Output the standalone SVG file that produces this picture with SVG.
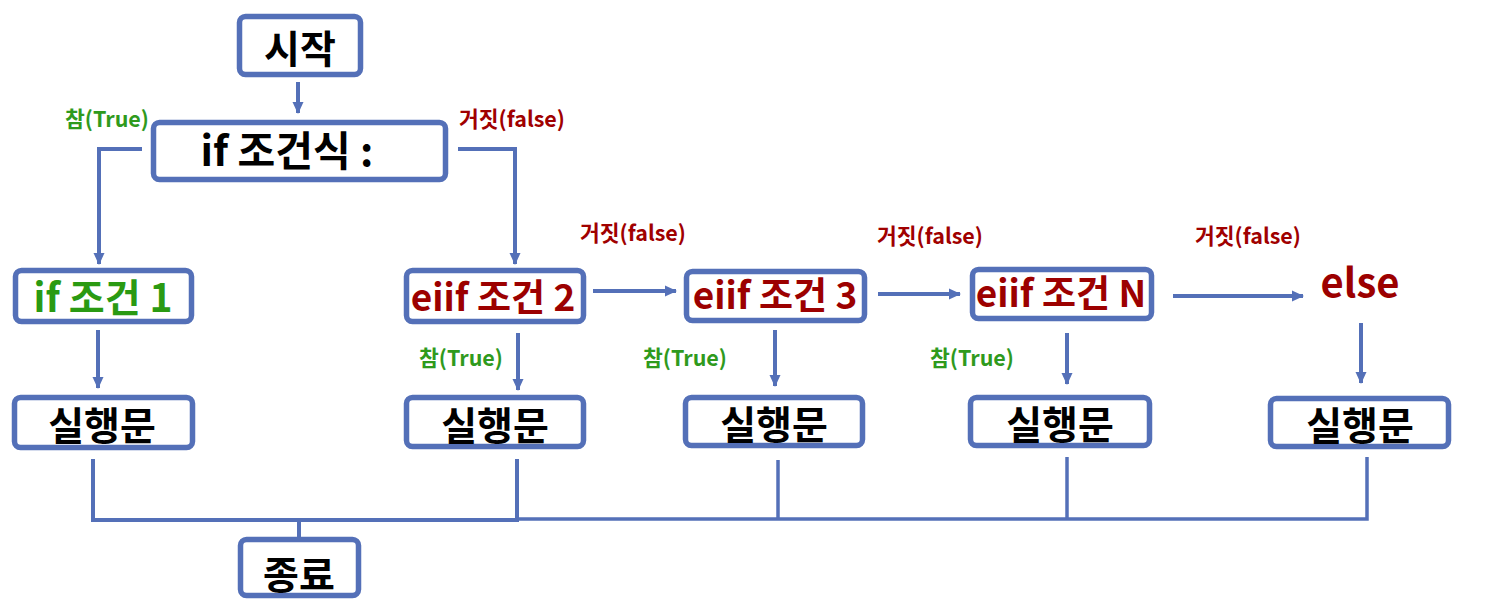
<svg xmlns="http://www.w3.org/2000/svg" width="1496" height="616" viewBox="0 0 1496 616">
<style>
.box{fill:#fff;stroke:#5470b8;stroke-width:5.5}
.t{font-family:"Noto Sans CJK KR","Noto Sans",sans-serif;font-weight:bold;font-size:39px;text-anchor:middle;fill:#000}
.g{fill:#2a9a12}
.r{fill:#9c0000}
.e{font-size:37px}
.lbl{font-family:"Noto Sans CJK KR","Noto Sans",sans-serif;font-weight:bold;font-size:21.5px}
.lg{fill:#2f9a1d}
.lr{fill:#a00000}
.c{fill:none;stroke:#5470b8;stroke-width:4}
.a{marker-end:url(#arr)}
</style>
<defs>
<marker id="arr" markerUnits="userSpaceOnUse" markerWidth="13" markerHeight="13" refX="11" refY="6.5" orient="auto">
<path d="M0,1 L12,6.5 L0,12 z" fill="#5470b8"/>
</marker>
</defs>
<rect width="1496" height="616" fill="#fff"/>
<g id="connectors">
<line class="c a" x1="298" y1="82" x2="298" y2="113"/>
<polyline class="c a" points="142,149 99,149 99,264"/>
<polyline class="c a" points="458,149 515,149 515,264"/>
<line class="c a" x1="593" y1="291" x2="676" y2="291"/>
<line class="c a" x1="878" y1="294" x2="960" y2="294"/>
<line class="c a" x1="1173" y1="296" x2="1303" y2="296"/>
<line class="c a" x1="98" y1="330" x2="98" y2="388"/>
<line class="c a" x1="518" y1="333" x2="518" y2="390"/>
<line class="c a" x1="775" y1="330" x2="775" y2="386"/>
<line class="c a" x1="1067" y1="333" x2="1067" y2="384"/>
<line class="c a" x1="1361" y1="323" x2="1361" y2="383"/>
<polyline class="c" points="93,459 93,520 517,520"/>
<line class="c" x1="517" y1="459" x2="517" y2="522"/>
<polyline class="c" style="stroke-width:3.5" points="517,519 1367,519 1367,457"/>
<line class="c" style="stroke-width:3.5" x1="778" y1="460" x2="778" y2="519"/>
<line class="c" style="stroke-width:3.5" x1="1067" y1="457" x2="1067" y2="519"/>
<line class="c" x1="299" y1="520" x2="299" y2="538"/>
</g>
<g id="start"><rect class="box" x="239.5" y="16.5" width="121" height="58" rx="6"/><text class="t" x="300" y="63">시작</text></g>
<g id="cond"><rect class="box" x="153.5" y="122.5" width="292" height="57" rx="6"/><text class="t" x="287" y="166" style="font-size:41px">if 조건식 :</text></g>
<g id="if1"><rect class="box" x="15.5" y="270.5" width="176" height="51" rx="6"/><text class="t g" x="103" y="312">if 조건 1</text></g>
<g id="elif2"><rect class="box" x="406.5" y="270.5" width="177" height="51" rx="6"/><text class="t r e" x="493" y="311">eiif 조건 2</text></g>
<g id="elif3"><rect class="box" x="686.5" y="271.5" width="178" height="49" rx="6"/><text class="t r e" x="775" y="309">eiif 조건 3</text></g>
<g id="elifN"><rect class="box" x="972.5" y="269.5" width="179" height="49" rx="6"/><text class="t r e" x="1061" y="307">eiif 조건 N</text></g>
<g id="else"><text class="t r" x="1360" y="297" style="font-size:40px">else</text></g>
<g id="exec1"><rect class="box" x="14.5" y="397.5" width="178" height="50" rx="6"/><text class="t" x="102" y="440">실행문</text></g>
<g id="exec2"><rect class="box" x="406.5" y="397.5" width="177" height="49" rx="6"/><text class="t" x="495" y="440">실행문</text></g>
<g id="exec3"><rect class="box" x="685.5" y="397.5" width="177" height="48" rx="6"/><text class="t" x="774" y="439">실행문</text></g>
<g id="execN"><rect class="box" x="970.5" y="397.5" width="179" height="48" rx="6"/><text class="t" x="1060" y="439">실행문</text></g>
<g id="exec5"><rect class="box" x="1270.5" y="398.5" width="178" height="48" rx="6"/><text class="t" x="1360" y="440">실행문</text></g>
<g id="end"><rect class="box" x="240.5" y="539.5" width="118" height="56" rx="6"/><text class="t" x="299" y="589">종료</text></g>
<g id="labels">
<text class="lbl lg" x="65" y="127">참(True)</text>
<text class="lbl lr" x="459" y="127">거짓(false)</text>
<text class="lbl lr" x="580" y="241">거짓(false)</text>
<text class="lbl lr" x="877" y="244">거짓(false)</text>
<text class="lbl lr" x="1195" y="244">거짓(false)</text>
<text class="lbl lg" x="419" y="366">참(True)</text>
<text class="lbl lg" x="643" y="366">참(True)</text>
<text class="lbl lg" x="930" y="366">참(True)</text>
</g>
</svg>
